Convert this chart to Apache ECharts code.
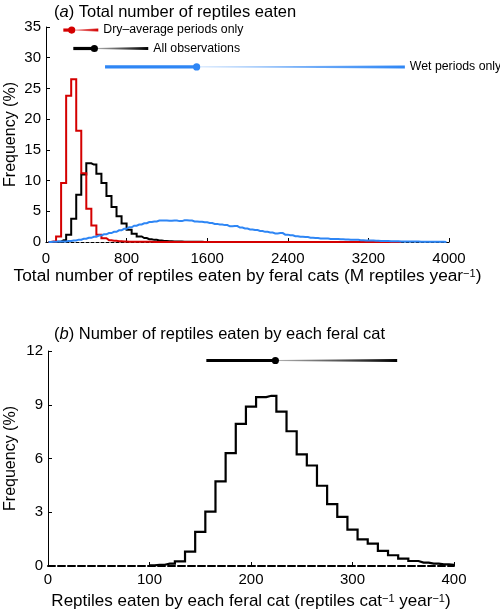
<!DOCTYPE html>
<html>
<head>
<meta charset="utf-8">
<title>Reptiles eaten by feral cats</title>
<script src="https://cdn.jsdelivr.net/npm/echarts@6/dist/echarts.min.js"></script>
<style>
  html, body { margin: 0; padding: 0; background: #fff; }
  #main { width: 500px; height: 612px; }
</style>
</head>
<body>
<div id="main"></div>
<script>
// panel (a): histograms, bins 50 M reptiles wide, centred on 25, 75, 125 ...
const binStartA = 25
const binWidthA = 50
const dryFreq = [
  0, 0.1, 0.9, 9.6, 23.8, 26.5, 18.1, 11.2, 5.4, 2.7,
  1.2, 0.6, 0.3, 0.2, 0.12, 0.08, 0.06, 0.05, 0.04, 0.03,
  0.03, 0.02, 0.02, 0.01, 0.01, 0, 0, 0, 0, 0,
  0, 0, 0, 0, 0, 0, 0, 0, 0, 0,
  0, 0, 0, 0, 0, 0, 0, 0, 0, 0,
  0, 0, 0, 0, 0, 0, 0, 0, 0, 0,
  0, 0, 0, 0, 0, 0, 0, 0, 0, 0,
  0
]
const allFreq = [
  0, 0, 0.05, 0.3, 1.2, 3.8, 7.7, 11.0, 12.8, 12.6,
  11.1, 9.6, 7.5, 5.7, 4.2, 3.0, 2.0, 1.35, 0.9, 0.65,
  0.45, 0.35, 0.25, 0.18, 0.12, 0.1, 0.08, 0.06, 0.05, 0.04,
  0.03, 0.02, 0.02, 0.01, 0.01, 0, 0, 0, 0, 0, 0
]
const wetFreq = [
  0.02, 0.04, 0.07, 0.1, 0.16, 0.25, 0.38, 0.52, 0.68, 0.85,
  1.05, 1.25, 1.45, 1.65, 1.9, 2.15, 2.4, 2.65, 2.85, 3.05,
  3.25, 3.35, 3.5, 3.5, 3.45, 3.5, 3.4, 3.55, 3.5, 3.35,
  3.3, 3.2, 3.1, 2.95, 2.85, 2.75, 2.55, 2.6, 2.35, 2.2,
  2.05, 1.95, 1.8, 1.65, 1.55, 1.4, 1.45, 1.2, 1.1, 0.95,
  0.85, 0.8, 0.7, 0.65, 0.58, 0.55, 0.5, 0.47, 0.43, 0.4,
  0.35, 0.35, 0.3, 0.25, 0.25, 0.2, 0.18, 0.15, 0.14, 0.12,
  0.1, 0.1, 0.08, 0.07, 0.06, 0.05, 0.04, 0.03, 0.03, 0.02
]
// median and interval lines above the histograms
const intervalNames = ['Dry–average periods only', 'All observations', 'Wet periods only']
const intervalLow = [172, 271, 586]
const intervalMedian = [255, 480, 1495]
const intervalHigh = [519, 1015, 3562]
const intervalRow = [34.5, 31.5, 28.5]

// panel (b): reptiles per cat, bins 10 wide, centred on 100, 110 ...
const binStartB = 100
const binWidthB = 10
const perCatFreq = [
  0.03, 0.07, 0.13, 0.26, 0.8, 1.9, 3.03, 4.72, 6.3, 7.93,
  8.9, 9.43, 9.5, 8.62, 7.52, 6.23, 5.61, 4.48, 3.45, 2.74,
  2.03, 1.49, 1.25, 0.84, 0.6, 0.41, 0.28, 0.19, 0.13, 0.09,
  0.06
]
const perCatInterval = [156, 224, 344]
const perCatRow = 11.47

const font = '"Liberation Sans", Arial, Helvetica, sans-serif'
const red = '#d40000'
const blue = '#2e86f5'

const toSteps = (vals, start, width) => vals.map((v, i) => [start + i * width, v])

function renderInterval(names) {
  return function (params, api) {
    const y = api.value(3)
    const lo = api.coord([api.value(0), y])
    const md = api.coord([api.value(1), y])
    const hi = api.coord([api.value(2), y])
    const color = api.visual('color')
    const children = [
      { type: 'line', shape: { x1: lo[0], y1: lo[1], x2: md[0], y2: md[1] },
        style: { stroke: color, lineWidth: 3.2 } },
      { type: 'polygon',
        shape: { points: [[md[0], md[1] - 0.4], [hi[0], hi[1] - 1.5], [hi[0], hi[1] + 1.5], [md[0], md[1] + 0.4]] },
        style: { fill: new echarts.graphic.LinearGradient(0, 0, 1, 0, [
          { offset: 0, color: echarts.color.modifyAlpha(color, 0.3) },
          { offset: 1, color: color }
        ]) } },
      { type: 'circle', shape: { cx: md[0], cy: md[1], r: 3.6 }, style: { fill: color } }
    ]
    if (names) {
      children.push({ type: 'text', x: hi[0] + 5, y: hi[1],
        style: { text: names[params.dataIndex], fill: '#000', fontSize: 12.3, fontFamily: font, verticalAlign: 'middle', align: 'left' } })
    }
    return { type: 'group', children }
  }
}

const axisBase = {
  nameMoveOverlap: false,
  axisTick: { inside: true, length: 4, lineStyle: { color: '#000', width: 1 } },
  axisLabel: { color: '#000', fontSize: 15, fontFamily: font, formatter: v => String(v) },
  splitLine: { show: false }
}
function nameStyle(size) {
  return {
    color: '#000', fontSize: size, fontFamily: font,
    rich: {
      t: { color: '#000', fontSize: size, fontFamily: font },
      s: { color: '#000', fontSize: Math.round(size * 0.65), fontFamily: font, verticalAlign: 'top' }
    }
  }
}
const titleStyle = {
  color: '#000', fontSize: 16.5, fontWeight: 'normal', fontFamily: font,
  rich: { it: { fontStyle: 'italic', fontSize: 16.5, color: '#000', fontFamily: font } }
}

const chart = echarts.init(document.getElementById('main'), null, { renderer: 'canvas' })
chart.setOption({
  animation: false,
  backgroundColor: '#fff',
  title: [
    { text: '({it|a}) Total number of reptiles eaten', left: 49, top: -1, textStyle: titleStyle },
    { text: '({it|b}) Number of reptiles eaten by each feral cat', left: 49, top: 321, textStyle: titleStyle }
  ],
  grid: [
    { left: 46, right: 51, top: 27, height: 215, outerBoundsMode: 'none' },
    { left: 48, right: 46, top: 351, height: 215, outerBoundsMode: 'none' }
  ],
  xAxis: [
    Object.assign({}, axisBase, {
      gridIndex: 0, type: 'value', min: 0, max: 4000, interval: 800,
      axisLine: { show: true, lineStyle: { color: '#000', width: 1.2, type: [3, 2] } },
      axisLabel: Object.assign({}, axisBase.axisLabel, { margin: 9 }),
      name: '{t|Total number of reptiles eaten by feral cats (M reptiles year}{s|−1}{t|)}',
      nameLocation: 'middle', nameGap: 26, nameTextStyle: nameStyle(17.3)
    }),
    Object.assign({}, axisBase, {
      gridIndex: 1, type: 'value', min: 0, max: 400, interval: 100,
      axisLine: { show: true, lineStyle: { color: '#000', width: 2, type: [7, 3] } },
      axisLabel: Object.assign({}, axisBase.axisLabel, { margin: 6 }),
      name: '{t|Reptiles eaten by each feral cat (reptiles cat}{s|−1}{t| year}{s|−1}{t|)}',
      nameLocation: 'middle', nameGap: 27, nameTextStyle: nameStyle(17)
    })
  ],
  yAxis: [
    Object.assign({}, axisBase, {
      gridIndex: 0, type: 'value', min: 0, max: 35, interval: 5,
      axisLine: { show: true, lineStyle: { color: '#000', width: 1 } },
      axisLabel: Object.assign({}, axisBase.axisLabel, { margin: 5 }),
      name: 'Frequency (%)', nameLocation: 'middle', nameGap: 27, nameTextStyle: nameStyle(16)
    }),
    Object.assign({}, axisBase, {
      gridIndex: 1, type: 'value', min: 0, max: 12, interval: 3,
      axisLine: { show: true, lineStyle: { color: '#000', width: 1 } },
      axisLabel: Object.assign({}, axisBase.axisLabel, { margin: 5 }),
      name: 'Frequency (%)', nameLocation: 'middle', nameGap: 29, nameTextStyle: nameStyle(16)
    })
  ],
  series: [
    { name: 'All observations', type: 'line', xAxisIndex: 0, yAxisIndex: 0, step: 'middle',
      symbol: 'none', data: toSteps(allFreq, binStartA, binWidthA),
      lineStyle: { color: '#000', width: 2, join: 'miter' }, z: 2 },
    { name: 'Dry–average periods only', type: 'line', xAxisIndex: 0, yAxisIndex: 0, step: 'middle',
      symbol: 'none', data: toSteps(dryFreq, binStartA, binWidthA),
      lineStyle: { color: red, width: 2, join: 'miter' }, z: 3 },
    { name: 'Wet periods only', type: 'line', xAxisIndex: 0, yAxisIndex: 0, step: 'middle',
      symbol: 'none', data: toSteps(wetFreq, binStartA, binWidthA),
      lineStyle: { color: blue, width: 2, join: 'miter' }, z: 4 },
    { type: 'custom', xAxisIndex: 0, yAxisIndex: 0, clip: false, z: 5,
      renderItem: renderInterval(intervalNames),
      encode: { x: [0, 1, 2], y: 3 },
      data: intervalNames.map((n, i) => ({
        value: [intervalLow[i], intervalMedian[i], intervalHigh[i], intervalRow[i]],
        itemStyle: { color: [red, '#000', blue][i] }
      })) },
    { name: 'Per cat', type: 'line', xAxisIndex: 1, yAxisIndex: 1, step: 'middle',
      symbol: 'none', data: toSteps(perCatFreq, binStartB, binWidthB),
      lineStyle: { color: '#000', width: 2.2, join: 'miter' }, z: 2 },
    { type: 'custom', xAxisIndex: 1, yAxisIndex: 1, clip: false, z: 5,
      renderItem: renderInterval(null),
      encode: { x: [0, 1, 2], y: 3 },
      data: [{ value: [perCatInterval[0], perCatInterval[1], perCatInterval[2], perCatRow], itemStyle: { color: '#000' } }] }
  ]
})
</script>
</body>
</html>
